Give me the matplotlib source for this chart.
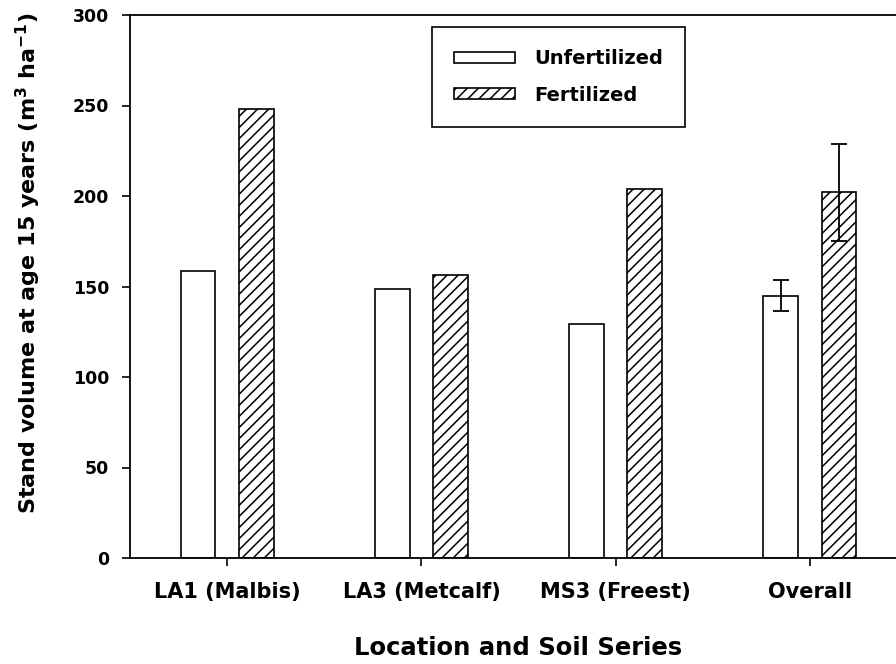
import matplotlib
matplotlib.use("Agg")
import matplotlib.pyplot as plt
import numpy as np

# data
sites = ["LA1 (Malbis)", "LA3 (Metcalf)", "MS3 (Freest)", "Overall"]
unfertilized = [158.7, 148.8, 129.3, 145.0]
fertilized = [248.2, 156.2, 203.9, 202.0]
# error bars only on the Overall group
unfert_err = [0, 0, 0, 8.6]
fert_err = [0, 0, 0, 26.6]

plt.rcParams['font.family'] = ['DejaVu Sans']
plt.rcParams['font.weight'] = 'bold'
plt.rcParams['hatch.linewidth'] = 1.1
plt.rcParams['hatch.color'] = 'black'

fig = plt.figure(figsize=(8.96, 6.64), dpi=100)
# axes run past the right edge of the picture, like the reference crop
ax = fig.add_axes([130 / 896, 106 / 664, 777 / 896, 543 / 664])

x = np.arange(len(sites))
offset = 0.15
width = 0.18

ax.bar(x - offset, unfertilized, width, color='white', edgecolor='black',
       linewidth=1.2, label='Unfertilized')
ax.bar(x + offset, fertilized, width, color='white', edgecolor='black',
       linewidth=1.2, hatch='///', label='Fertilized')

# error bars for the overall means
last = len(sites) - 1
ax.errorbar(x[last] - offset, unfertilized[last], yerr=unfert_err[last],
            fmt='none', ecolor='black', elinewidth=1.3, capsize=6, capthick=1.3)
ax.errorbar(x[last] + offset, fertilized[last], yerr=fert_err[last],
            fmt='none', ecolor='black', elinewidth=1.3, capsize=6, capthick=1.3)

ax.set_xlim(-0.5, 3.5)
ax.set_ylim(0, 300)
ax.set_yticks([0, 50, 100, 150, 200, 250, 300])
ax.set_xticks(x)
ax.set_xticklabels(sites, fontsize=15, fontweight='bold')
ax.tick_params(axis='y', direction='out', length=6, width=1.2, pad=9,
               labelsize=12.5)
ax.tick_params(axis='x', direction='out', length=6, width=1.2, pad=11)
for lbl in ax.get_yticklabels():
    lbl.set_fontweight('bold')

for sp in ax.spines.values():
    sp.set_linewidth(1.3)

ax.set_xlabel('Location and Soil Series', fontsize=17.5, fontweight='bold',
              labelpad=25)
fig.text(28 / 896, 1 - 263 / 664,
         r'Stand volume at age 15 years (m$^{\mathbf{3}}$ ha$^{\mathbf{-1}}$)',
         rotation=90, ha='center', va='center', fontsize=16,
         fontweight='bold')

leg = ax.legend(loc='upper left', bbox_to_anchor=(0.3887, 0.978),
                borderaxespad=0, fontsize=14, frameon=True, fancybox=False,
                framealpha=1, handlelength=3.1, handleheight=0.5,
                labelspacing=0.9, borderpad=1.15, handletextpad=1.0)
leg.get_frame().set_edgecolor('black')
leg.get_frame().set_linewidth(1.2)
for t in leg.get_texts():
    t.set_fontweight('bold')

fig.savefig('out.png', dpi=100)
